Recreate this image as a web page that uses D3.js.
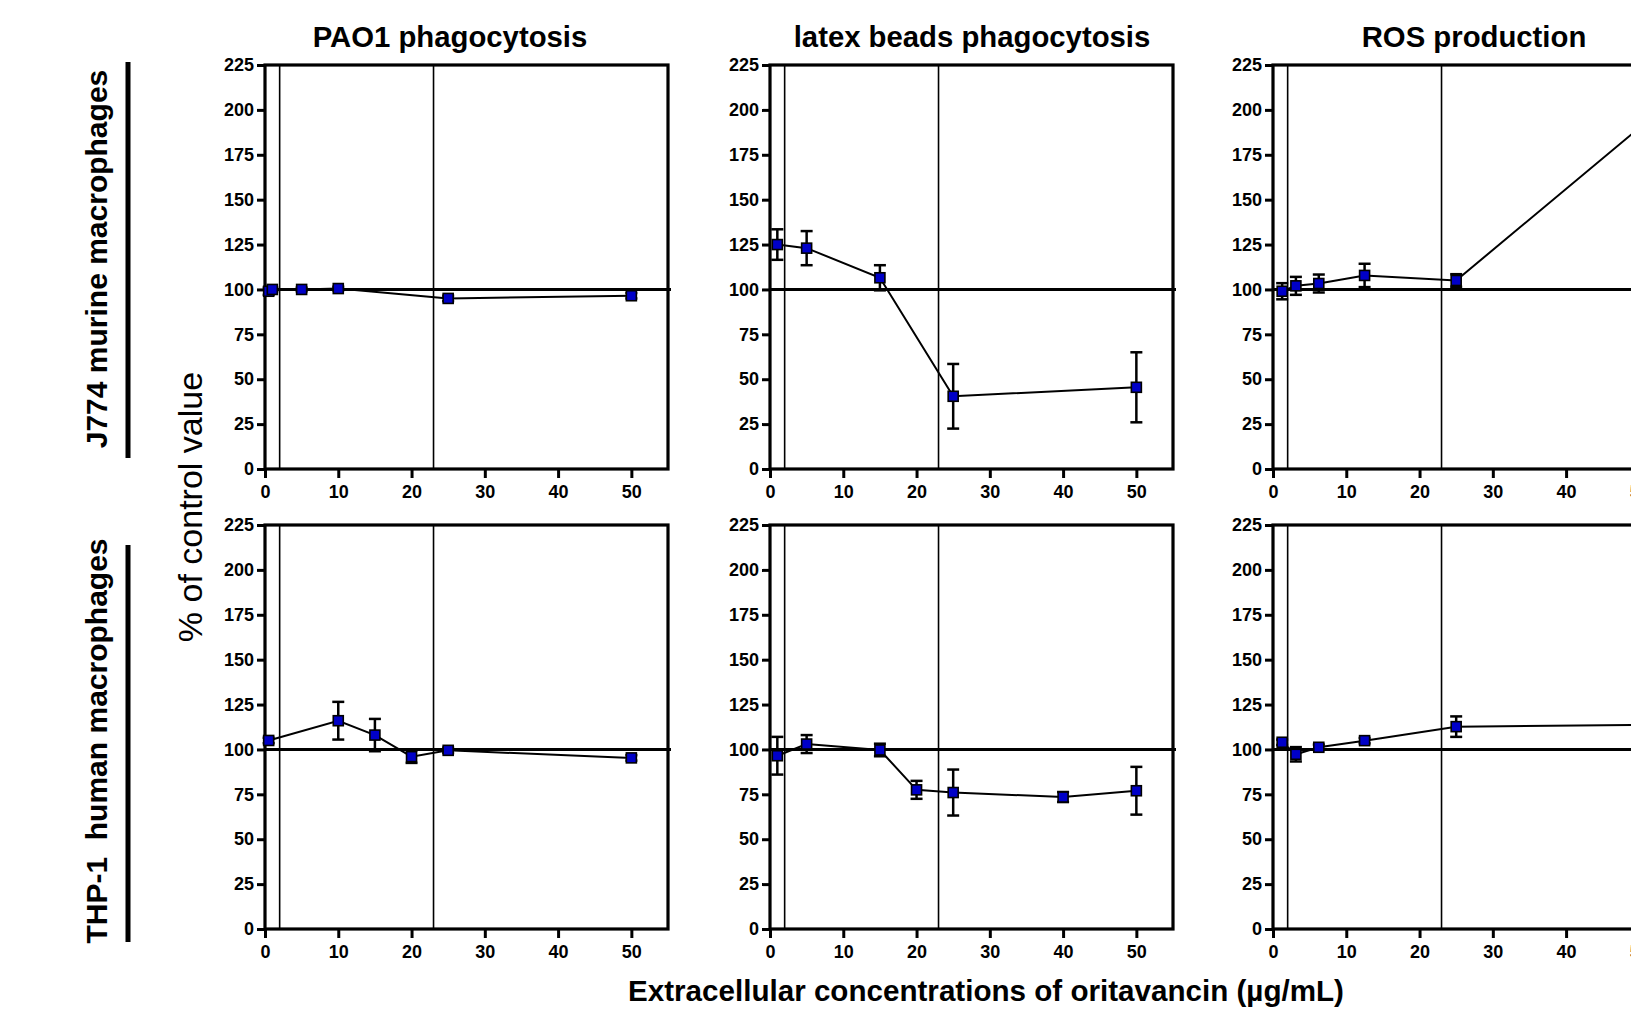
<!DOCTYPE html>
<html>
<head>
<meta charset="utf-8">
<script src="https://cdn.jsdelivr.net/npm/d3@7"></script>
<style>
  html, body { margin: 0; padding: 0; background: #fff; }
  svg { display: block; font-family: "Liberation Sans", Arial, Helvetica, sans-serif; }
</style>
</head>
<body>
<svg id="chart" width="1631" height="1011"></svg>
<script>
// ---------------- data ----------------
const colTitles = ["PAO1 phagocytosis", "latex beads phagocytosis", "ROS production"];
const rowLabels = ["J774 murine macrophages", "THP-1  human macrophages"];
const yLabel = "% of control value";
const xLabel = "Extracellular concentrations of oritavancin (\u00b5g/mL)";
const yTicks = [0, 25, 50, 75, 100, 125, 150, 175, 200, 225];
const xTicks = [0, 10, 20, 30, 40, 50];
const refLinesX = [2, 23];
const controlValue = 100;

// J774 murine macrophages
const j774PaoX   = [0.5, 1, 5, 10, 25, 50];
const j774PaoY   = [99, 100, 100, 100.5, 95, 96.5];
const j774PaoErr = [2, 1, 1, 1, 1.5, 1.5];

const j774LatexX   = [1, 5, 15, 25, 50];
const j774LatexY   = [125, 123, 106.5, 40.5, 45.5];
const j774LatexErr = [8.5, 9.5, 7, 18, 19.5];

const j774RosX   = [1.25, 3.125, 6.25, 12.5, 25, 50];
const j774RosY   = [99, 102, 103.3, 107.8, 105, 190];
const j774RosErr = [4.5, 5, 5, 6.5, 3.5, 8];

// THP-1 human macrophages
const thpPaoX   = [0.5, 10, 15, 20, 25, 50];
const thpPaoY   = [105, 116, 108, 96, 99.5, 95.3];
const thpPaoErr = [1.5, 10.5, 9, 3.5, 1.5, 1.5];

const thpLatexX   = [1, 5, 15, 20, 25, 40, 50];
const thpLatexY   = [96.5, 103, 99.7, 77.5, 76, 73.5, 77];
const thpLatexErr = [10.5, 5, 3.5, 5, 12.8, 2.8, 13.3];

const thpRosX   = [1.25, 3.125, 6.25, 12.5, 25, 50];
const thpRosY   = [104, 97.3, 101.2, 104.9, 112.7, 113.7];
const thpRosErr = [1.5, 4, 1.5, 1.5, 5.7, 4];

const panels = [
  [[j774PaoX, j774PaoY, j774PaoErr], [j774LatexX, j774LatexY, j774LatexErr], [j774RosX, j774RosY, j774RosErr]],
  [[thpPaoX, thpPaoY, thpPaoErr], [thpLatexX, thpLatexY, thpLatexErr], [thpRosX, thpRosY, thpRosErr]]
];

// ---------------- layout ----------------
const colLeft = [265, 770, 1273];
const rowTop = [65, 525];
const pw = 403, ph = 404;
const titleX = [450, 972, 1474];
const font = '"Liberation Sans", Arial, Helvetica, sans-serif';

const svg = d3.select("#chart");

const x = d3.scaleLinear().domain([0, 55]).range([0, pw]);
const y = d3.scaleLinear().domain([0, 225]).range([ph, 0]);

panels.forEach((row, r) => {
  row.forEach((series, c) => {
    const g = svg.append("g").attr("transform", `translate(${colLeft[c]},${rowTop[r]})`);
    const [xs, ys, es] = series;
    const pts = xs.map((v, i) => ({ x: v, y: ys[i], e: es[i] }));

    // reference vertical lines
    g.selectAll("line.ref").data(refLinesX).join("line")
      .attr("class", "ref")
      .attr("x1", d => x(d)).attr("x2", d => x(d))
      .attr("y1", 0).attr("y2", ph)
      .attr("stroke", "#000").attr("stroke-width", 1.6);

    // control line at 100
    g.append("line")
      .attr("x1", 0).attr("x2", pw + 3)
      .attr("y1", y(controlValue)).attr("y2", y(controlValue))
      .attr("stroke", "#000").attr("stroke-width", 3);

    // y axis
    const ya = g.append("g").call(d3.axisLeft(y).tickValues(yTicks).tickSize(8).tickPadding(3));
    ya.select(".domain").remove();
    ya.selectAll("line").attr("stroke-width", 3);
    ya.selectAll("text").attr("font-family", font).attr("font-size", 18).attr("font-weight", "bold").attr("fill", "#000");

    // x axis
    const xa = g.append("g").attr("transform", `translate(0,${ph})`)
      .call(d3.axisBottom(x).tickValues(xTicks).tickSize(9).tickPadding(7));
    xa.select(".domain").remove();
    xa.selectAll("line").attr("stroke-width", 3);
    xa.selectAll("text").attr("font-family", font).attr("font-size", 18).attr("font-weight", "bold").attr("fill", "#000");

    // frame
    g.append("rect").attr("x", 0).attr("y", 0).attr("width", pw).attr("height", ph)
      .attr("fill", "none").attr("stroke", "#000").attr("stroke-width", 3.2);

    // data line
    g.append("path").datum(pts)
      .attr("d", d3.line().x(d => x(d.x)).y(d => y(d.y)))
      .attr("fill", "none").attr("stroke", "#000").attr("stroke-width", 2);

    // error bars
    const eb = g.selectAll("g.eb").data(pts).join("g").attr("class", "eb");
    eb.append("line")
      .attr("x1", d => x(d.x)).attr("x2", d => x(d.x))
      .attr("y1", d => y(d.y + d.e)).attr("y2", d => y(d.y - d.e))
      .attr("stroke", "#000").attr("stroke-width", 2.5);
    [1, -1].forEach(s => {
      eb.append("line")
        .attr("x1", d => x(d.x) - 6).attr("x2", d => x(d.x) + 6)
        .attr("y1", d => y(d.y + s * d.e)).attr("y2", d => y(d.y + s * d.e))
        .attr("stroke", "#000").attr("stroke-width", 2.5);
    });

    // markers
    g.selectAll("rect.m").data(pts).join("rect")
      .attr("class", "m")
      .attr("x", d => x(d.x) - 5).attr("y", d => y(d.y) - 5)
      .attr("width", 10).attr("height", 10)
      .attr("fill", "#0000c8").attr("stroke", "#000").attr("stroke-width", 1.6);
  });
});

// column titles
svg.selectAll("text.ctitle").data(colTitles).join("text")
  .attr("class", "ctitle")
  .attr("x", (d, i) => titleX[i]).attr("y", 47)
  .attr("text-anchor", "middle")
  .attr("font-family", font).attr("font-size", 29.3).attr("font-weight", "bold")
  .text(d => d);

// row labels with bars
const rowCenters = [259, 741];
const barSpans = [[62, 458], [545, 942]];
rowLabels.forEach((lab, i) => {
  svg.append("text")
    .attr("transform", `translate(107,${rowCenters[i]}) rotate(-90)`)
    .attr("text-anchor", "middle")
    .attr("font-family", font).attr("font-size", 30).attr("font-weight", "bold")
    .style("white-space", "pre")
    .attr("xml:space", "preserve")
    .text(lab);
  svg.append("line")
    .attr("x1", 128).attr("x2", 128)
    .attr("y1", barSpans[i][0]).attr("y2", barSpans[i][1])
    .attr("stroke", "#000").attr("stroke-width", 5);
});

// y label
svg.append("text")
  .attr("transform", "translate(202,507) rotate(-90)")
  .attr("text-anchor", "middle")
  .attr("font-family", font).attr("font-size", 34)
  .text(yLabel);

// x label
svg.append("text")
  .attr("x", 986).attr("y", 1001)
  .attr("text-anchor", "middle")
  .attr("font-family", font).attr("font-size", 29.6).attr("font-weight", "bold")
  .text(xLabel);
</script>
</body>
</html>
